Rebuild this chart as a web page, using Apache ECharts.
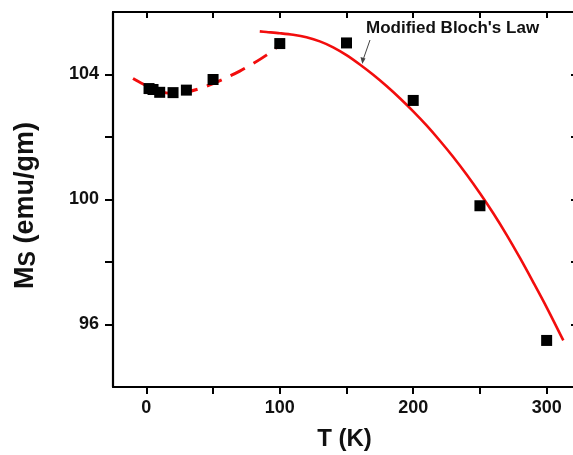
<!DOCTYPE html>
<html>
<head>
<meta charset="utf-8">
<script src="https://cdn.jsdelivr.net/npm/echarts@6/dist/echarts.min.js"></script>
<style>
html,body{margin:0;padding:0;background:#fff;}
#c{width:573px;height:455px;}
</style>
</head>
<body>
<div id="c"></div>
<script>
// Measured data (T in K, Ms in emu/gm)
const tempK = [2, 5, 10, 20, 30, 50, 100, 150, 200, 250, 300];
const msValues = [103.55, 103.52, 103.43, 103.42, 103.5, 103.84, 104.99, 105.01, 103.17, 99.8, 95.49];

// Low-temperature guide (dashed)
const dashT = [-10, 0, 10, 20, 30, 40, 50, 60, 70, 80, 90, 98];
const dashM = [103.87, 103.64, 103.46, 103.39, 103.44, 103.55, 103.71, 103.90, 104.11, 104.35, 104.62, 104.88];

// Modified Bloch's law fit (solid)
const fitT = [85, 90, 100, 110, 120, 130, 140, 150, 160, 170, 180, 190, 200, 210, 220, 230, 240, 250, 260, 270, 280, 290, 300, 312.5];
const fitM = [105.38, 105.36, 105.32, 105.27, 105.19, 105.06, 104.87, 104.62, 104.32, 103.99, 103.63, 103.24, 102.82, 102.37, 101.88, 101.36, 100.80, 100.20, 99.56, 98.87, 98.13, 97.35, 96.55, 95.49];

const xTicks = [0, 50, 100, 150, 200, 250, 300];
const xLabels = [0, 100, 200, 300];
const yTicks = [96, 98, 100, 102, 104];
const yLabels = [96, 100, 104];

const pair = (a, b) => a.map((v, i) => [v, b[i]]);
const FONT = 'Liberation Sans, Arial, sans-serif';

const chart = echarts.init(document.getElementById('c'), null, {renderer: 'canvas'});
const axisLine = {show: true, onZero: false, lineStyle: {color: '#000', width: 2.2}};
chart.setOption({
  backgroundColor: '#fff',
  animation: false,
  grid: {left: 113, top: 12, width: 463, height: 375, containLabel: false, outerBoundsMode: 'none'},
  xAxis: [{
    type: 'value', position: 'bottom', min: -25, max: 322,
    axisLine: axisLine,
    axisTick: {show: true, inside: false, length: 7, customValues: xTicks, lineStyle: {color: '#000', width: 2}},
    axisLabel: {show: true, customValues: xLabels, margin: 12, color: '#111', fontFamily: FONT, fontWeight: 'bold', fontSize: 18},
    splitLine: {show: false},
    name: 'T (K)', nameLocation: 'middle', nameGap: 40,
    nameTextStyle: {color: '#111', fontFamily: FONT, fontWeight: 'bold', fontSize: 24}
  }, {
    type: 'value', position: 'top', min: -25, max: 322,
    axisLine: axisLine,
    axisTick: {show: true, inside: true, length: 6, customValues: xTicks, lineStyle: {color: '#000', width: 2}},
    axisLabel: {show: false},
    splitLine: {show: false}
  }],
  yAxis: [{
    type: 'value', position: 'left', min: 94, max: 106,
    axisLine: axisLine,
    axisTick: {show: true, inside: false, length: 8, customValues: yTicks, lineStyle: {color: '#000', width: 2}},
    axisLabel: {show: true, customValues: yLabels, margin: 14, color: '#111', fontFamily: FONT, fontWeight: 'bold', fontSize: 18},
    splitLine: {show: false},
    name: '{m|M}{s|S} {m|(emu/gm)}', nameLocation: 'middle', nameGap: 73, nameRotate: 90,
    nameTextStyle: {
      color: '#111', fontFamily: FONT, fontWeight: 'bold', fontSize: 27, padding: [0, 0, 0, -12],
      rich: {
        m: {fontFamily: FONT, fontWeight: 'bold', fontSize: 27, color: '#111'},
        s: {fontFamily: FONT, fontWeight: 'bold', fontSize: 23, color: '#111', verticalAlign: 'bottom', padding: [6, 0, 0, 0]}
      }
    }
  }, {
    type: 'value', position: 'right', min: 94, max: 106,
    axisLine: axisLine,
    axisTick: {show: true, inside: true, length: 5, customValues: yTicks, lineStyle: {color: '#000', width: 2}},
    axisLabel: {show: false},
    splitLine: {show: false}
  }],
  series: [{
    type: 'line', data: pair(dashT, dashM), smooth: 0.3, symbol: 'none',
    lineStyle: {color: '#f20d0d', width: 3, type: [16, 10]}, z: 2
  }, {
    type: 'line', data: pair(fitT, fitM), smooth: 0.3, symbol: 'none',
    lineStyle: {color: '#f20d0d', width: 2.6}, z: 2
  }, {
    type: 'scatter', data: pair(tempK, msValues), symbol: 'rect', symbolSize: 11,
    itemStyle: {color: '#000', opacity: 1}, z: 3
  }],
  graphic: [{
    type: 'text', left: 366, top: 20,
    style: {text: "Modified Bloch's Law", fill: '#111', font: 'bold 17px ' + FONT}
  }, {
    type: 'line', shape: {x1: 370, y1: 40, x2: 363, y2: 60},
    style: {stroke: '#444', lineWidth: 1}
  }, {
    type: 'polygon', shape: {points: [[360.5, 57], [365.5, 58.5], [362.3, 64]]},
    style: {fill: '#444'}
  }]
});
</script>
</body>
</html>
